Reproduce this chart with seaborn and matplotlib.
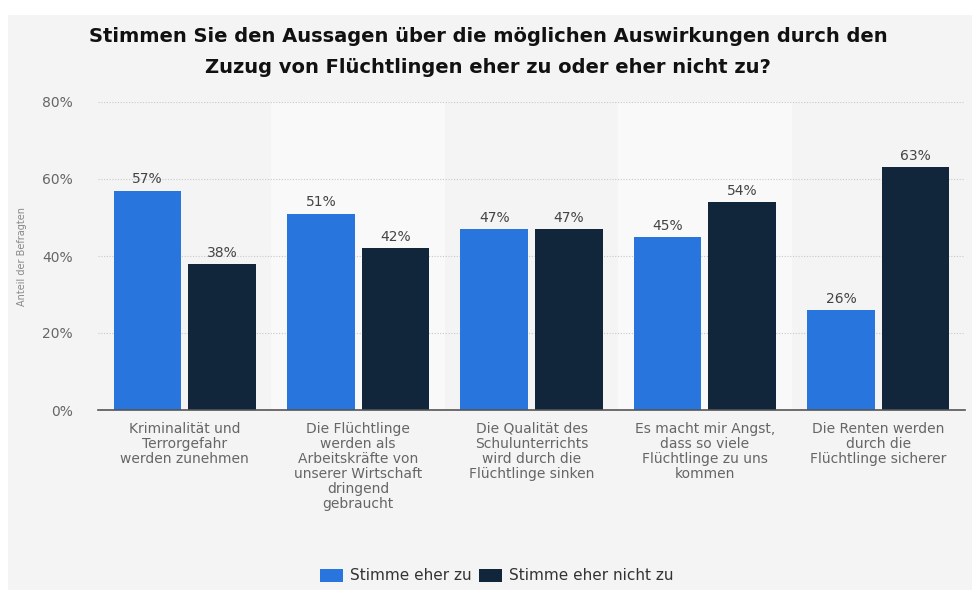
import matplotlib
matplotlib.use("Agg")
import matplotlib.pyplot as plt
import seaborn as sns
import pandas as pd
from matplotlib.patches import Rectangle, Patch

categories = [
    "Kriminalität und\nTerrorgefahr\nwerden zunehmen",
    "Die Flüchtlinge\nwerden als\nArbeitskräfte von\nunserer Wirtschaft\ndringend\ngebraucht",
    "Die Qualität des\nSchulunterrichts\nwird durch die\nFlüchtlinge sinken",
    "Es macht mir Angst,\ndass so viele\nFlüchtlinge zu uns\nkommen",
    "Die Renten werden\ndurch die\nFlüchtlinge sicherer",
]
series_names = ["Stimme eher zu", "Stimme eher nicht zu"]
values_zu = [57, 51, 47, 45, 26]
values_nicht = [38, 42, 47, 54, 63]
yticks = [0, 20, 40, 60, 80]
ytick_labels = ["0%", "20%", "40%", "60%", "80%"]

title = "Stimmen Sie den Aussagen über die möglichen Auswirkungen durch den\nZuzug von Flüchtlingen eher zu oder eher nicht zu?"
ylabel = "Anteil der Befragten"

colors = ["#2876dd", "#12263b"]
bg = "#f4f4f4"

df = pd.DataFrame({
    "Kategorie": categories * 2,
    "Antwort": [series_names[0]] * 5 + [series_names[1]] * 5,
    "Wert": values_zu + values_nicht,
})

sns.set_theme(style="white")
plt.rcParams["font.family"] = ["DejaVu Sans"]

W, H = 972, 590
fig = plt.figure(figsize=(W / 100, H / 100), dpi=100, facecolor="white")
fig.patches.append(Rectangle((8 / W, 0), 1 - 8 / W, 1 - 15 / H, transform=fig.transFigure,
                             facecolor=bg, edgecolor="none", zorder=-10))

ax = fig.add_axes([98 / W, (H - 410) / H, (965 - 98) / W, (410 - 102) / H])
ax.set_facecolor(bg)

sns.barplot(data=df, x="Kategorie", y="Wert", hue="Antwort", palette=colors,
            saturation=1, width=0.86, ax=ax, legend=False, zorder=3,
            edgecolor="none", linewidth=0)

# shrink bars to create gap
for p in ax.patches:
    w = p.get_width()
    new_w = 0.39
    p.set_x(p.get_x() + (w - new_w) / 2)
    p.set_width(new_w)

# value labels
for cont in ax.containers:
    ax.bar_label(cont, labels=[f"{int(v)}%" for v in cont.datavalues], padding=3,
                 fontsize=10, color="#444444", zorder=5)

# alternating bands
for i in range(len(categories)):
    if i % 2 == 1:
        ax.axvspan(i - 0.5, i + 0.5, facecolor="#f9f9f9", edgecolor="none", zorder=0)

ax.set_xlim(-0.5, len(categories) - 0.5)
ax.set_ylim(0, 80)
ax.set_yticks(yticks)
ax.set_yticklabels(ytick_labels, fontsize=10, color="#666666")
for y in yticks[1:]:
    ax.axhline(y, color="#c8c8c8", linestyle=(0, (1, 1.5)), linewidth=0.8, zorder=1)

ax.tick_params(axis="y", length=0, pad=18)
ax.tick_params(axis="x", length=0, pad=8.5)
ax.set_xticks(range(len(categories)))
ax.set_xticklabels(categories, fontsize=10, color="#666666", linespacing=1.1, va="top")
ax.set_xlabel("")
ax.set_ylabel(ylabel, fontsize=7, color="#888888")
ax.yaxis.set_label_coords((27 - 98) / 867, 0.5)

for s in ["top", "right", "left"]:
    ax.spines[s].set_visible(False)
ax.spines["bottom"].set_color("#555555")
ax.spines["bottom"].set_linewidth(1.2)
ax.spines["bottom"].set_zorder(6)

fig.text(488 / W, 1 - 52 / H, title, ha="center", va="center", fontsize=14,
         fontweight="bold", color="#111111", linespacing=1.75)

handles = [Patch(facecolor=c, edgecolor="none") for c in colors]
fig.legend(handles, series_names, loc="center", bbox_to_anchor=(497 / W, (H - 576) / H),
           ncol=2, frameon=False, fontsize=11, handlelength=1.5, handleheight=0.9,
           columnspacing=0.5, handletextpad=0.45, labelcolor="#333333")

fig.savefig("out.png", dpi=100, facecolor=fig.get_facecolor())
